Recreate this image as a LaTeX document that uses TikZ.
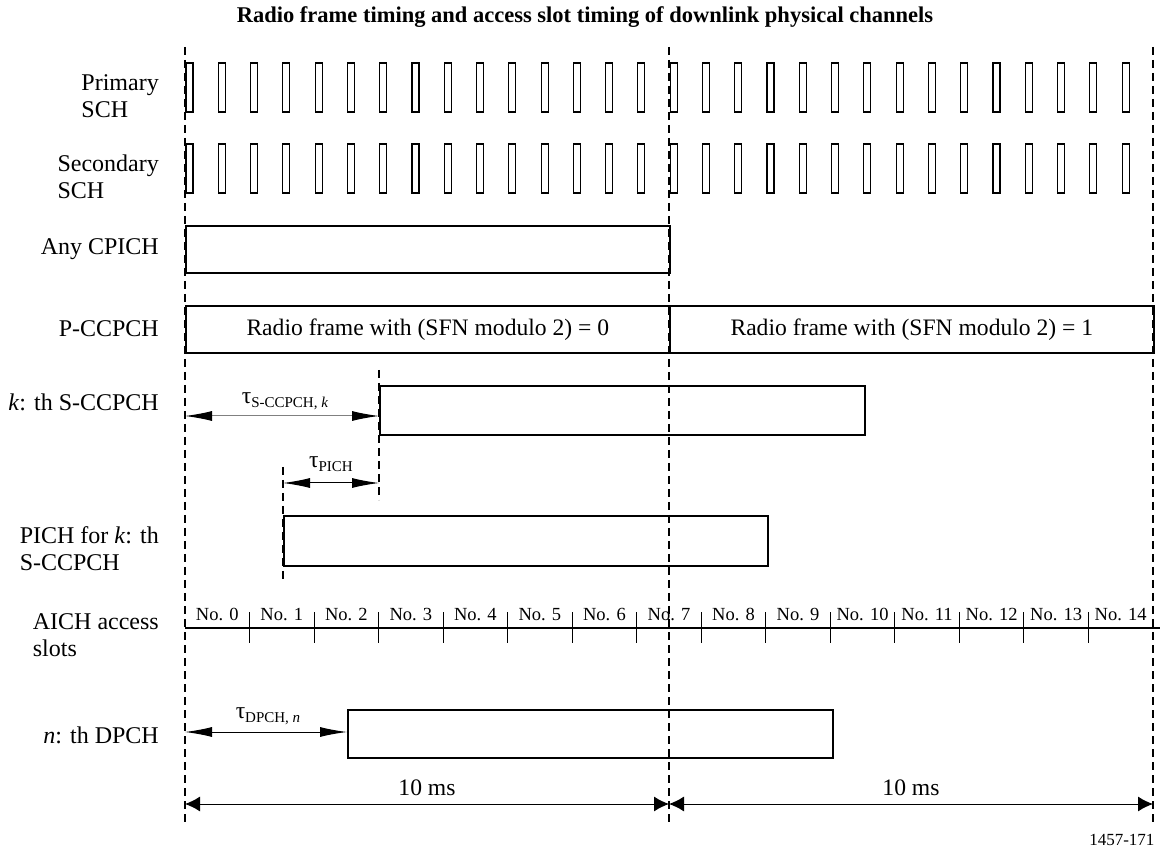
\documentclass[tikz,border=0pt]{standalone}
\usepackage{fontspec}
\setmainfont{Liberation Serif}
\usetikzlibrary{arrows.meta}
\newcommand{\tausub}[1]{τ\raisebox{-0.35ex}{\fontsize{15}{15}\selectfont #1}}

\begin{document}
\begin{tikzpicture}[x=1pt,y=-1pt,
  chbox/.style={draw,line width=1.7pt,inner sep=0pt,anchor=north west},
  pulse/.style={draw,line width=1.1pt},
  guide/.style={line width=1.5pt,dash pattern=on 8pt off 5pt},
  rowlabel/.style={anchor=east,align=left,inner sep=0pt,font=\fontsize{24}{27}\selectfont},
  boxtext/.style={font=\fontsize{23.6}{27}\selectfont},
  slotlabel/.style={anchor=base,inner sep=0pt,font=\fontsize{18.5}{20}\selectfont},
  tick/.style={line width=1.1pt},
  tauarrow/.style={line width=1pt,{Latex[length=27pt,width=10pt,color=black]}-{Latex[length=27pt,width=10pt,color=black]}},
  spanarrow/.style={line width=1pt,{Latex[length=15pt,width=15pt]}-{Latex[length=15pt,width=15pt]}}]
  \fill[white] (0,0) rectangle (1163,858);
  \useasboundingbox (0,0) rectangle (1163,858);

  % title
  \node[font=\bfseries\fontsize{22.5}{26}\selectfont] (title) at (585,17)
    {Radio frame timing and access slot timing of downlink physical channels};

  % time marks
  \coordinate (f0) at (185,47);
  \coordinate (f1) at (669,47);
  \coordinate (f2) at (1153,47);
  \draw[guide] (f0) -- (185,825);
  \draw[guide] (f1) -- (669,825);
  \draw[guide] (f2) -- (1153,825);
  \draw[guide] (379,370) -- (379,500);
  \draw[guide] (283,467) -- (283,580);

  % row labels
  \node[rowlabel] (lpsch) at (159,96) {Primary\\SCH};
  \node[rowlabel] (lssch) at (159,177) {Secondary\\SCH};
  \node[rowlabel] (lcpich) at (159,249) {Any CPICH};
  \node[rowlabel] (lpccpch) at (159,329) {P-CCPCH};
  \node[rowlabel] (lsccpch) at (159,402) {\textit{k}: th S-CCPCH};
  \node[rowlabel] (lpich) at (159,549) {PICH for \textit{k}: th\\S-CCPCH};
  \node[rowlabel] (laich) at (159,635) {AICH access\\slots};
  \node[rowlabel] (ldpch) at (159,735) {\textit{n}: th DPCH};

  % SCH pulses
  \foreach \i in {0,...,29} {
    \draw[pulse] ({186+\i*32.28},63) rectangle +(7,49);
    \draw[pulse] ({186+\i*32.28},144) rectangle +(7,49);
  }

  % channels
  \node[chbox,minimum width=484pt,minimum height=47pt] (cpich) at (185,225) {};
  \node[chbox,minimum width=484pt,minimum height=47pt] (frame0) at (185,305) {};
  \node[chbox,minimum width=484pt,minimum height=47pt] (frame1) at (669,305) {};
  \node[boxtext] (sfn0) at (frame0.center) {Radio frame with (SFN modulo 2) = 0};
  \node[boxtext] (sfn1) at (frame1.center) {Radio frame with (SFN modulo 2) = 1};
  \node[chbox,minimum width=485pt,minimum height=49pt] (sccpch) at (379,385) {};
  \node[chbox,minimum width=484pt,minimum height=50pt] (pich) at (283,515) {};
  \node[chbox,minimum width=485pt,minimum height=48pt] (dpch) at (347,709) {};

  % offsets
  \coordinate (sk0) at (185,416);
  \coordinate (sk1) at (379,416);
  \draw[tauarrow,gray] (sk0) -- (sk1);
  \node (tsk) at (285,401) {\fontsize{23.6}{27}\selectfont\tausub{S-CCPCH, \textit{k}}};
  \coordinate (pi0) at (283,483);
  \coordinate (pi1) at (379,483);
  \draw[tauarrow] (pi0) -- (pi1);
  \node (tpi) at (331,464) {\fontsize{23.6}{27}\selectfont\tausub{PICH}};
  \coordinate (dp0) at (185,732);
  \coordinate (dp1) at (347,732);
  \draw[tauarrow] (dp0) -- (dp1);
  \node (tdp) at (268,716) {\fontsize{23.6}{27}\selectfont\tausub{DPCH, \textit{n}}};

  % AICH access slots
  \draw[line width=1.8pt] (185,628) -- (1160,628);
  \foreach \k in {1,...,14}
    \draw[tick] ({185+\k*64.53},612) -- ({185+\k*64.53},643);
  \foreach \k in {0,...,14}
    \node[slotlabel] (no\k) at ({185+(\k+0.5)*64.53},620) {No. \k};

  % frame lengths
  \coordinate (m0) at (185,804);
  \coordinate (m1) at (669,804);
  \coordinate (m2) at (1153,804);
  \draw[spanarrow] (m0) -- (m1);
  \draw[spanarrow] (m1) -- (m2);
  \node[boxtext] (ms0) at (427,788) {10 ms};
  \node[boxtext] (ms1) at (911,788) {10 ms};

  \node[anchor=east,font=\fontsize{17}{20}\selectfont] (code) at (1158,840) {1457-171};
\end{tikzpicture}
\end{document}
